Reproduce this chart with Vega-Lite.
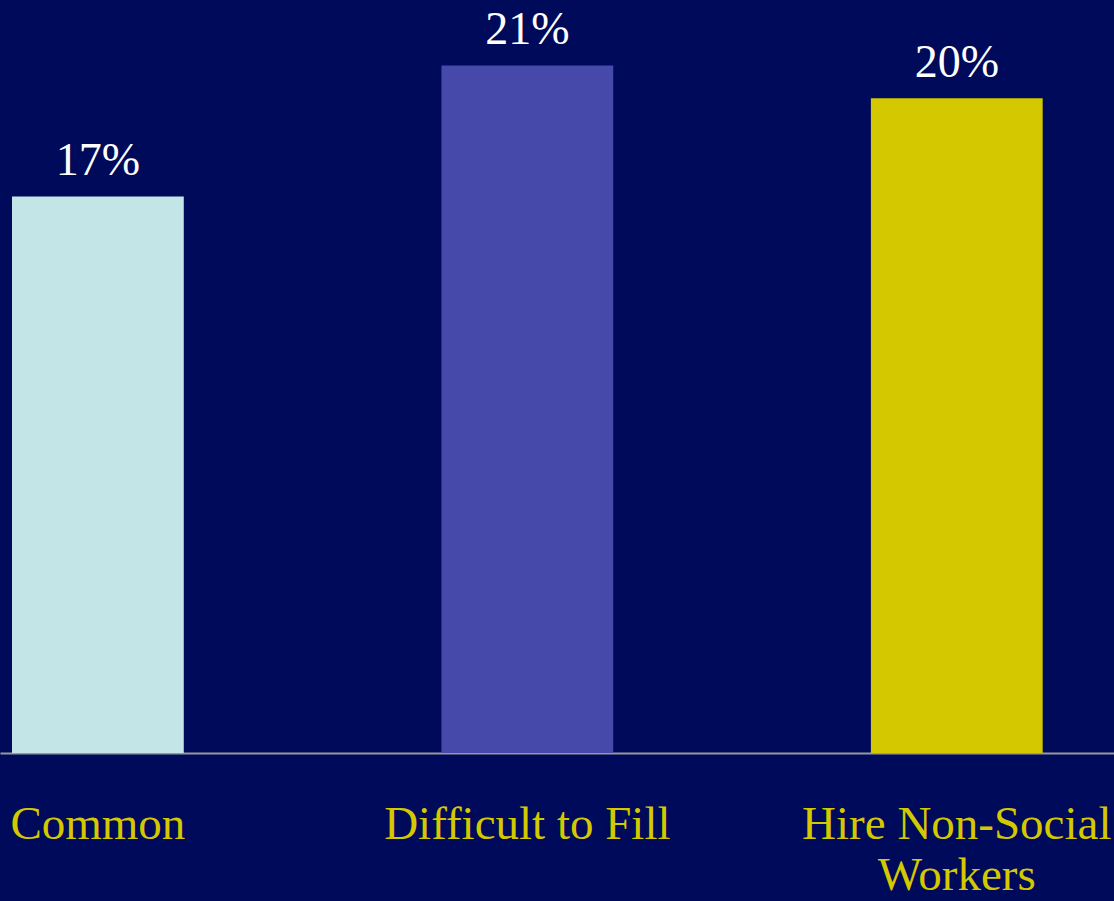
{
  "$schema": "https://vega.github.io/schema/vega-lite/v6.json",
  "width": 1114,
  "height": 753,
  "autosize": "none",
  "padding": {"left": 0, "top": 0, "right": 0, "bottom": 148},
  "background": "#000A5A",
  "config": {"view": {"stroke": null}},
  "data": {
    "values": [
      {"category": "Common", "share": 0.17},
      {"category": "Difficult to Fill", "share": 0.21},
      {"category": "Hire Non-Social Workers", "share": 0.20}
    ]
  },
  "encoding": {
    "x": {
      "field": "category",
      "type": "nominal",
      "sort": null,
      "scale": {"paddingInner": 0.6, "paddingOuter": 0.097, "align": 0.144, "round": false},
      "axis": {
        "title": null,
        "ticks": false,
        "grid": false,
        "labelAngle": 0,
        "domainColor": "#999999",
        "domainWidth": 2,
        "labelFont": "Liberation Serif",
        "labelFontSize": 47,
        "labelColor": "#D4C800",
        "labelBaseline": "alphabetic",
        "labelPadding": 85,
        "labelLineHeight": 51,
        "labelLimit": 0,
        "labelOverlap": false,
        "labelBound": false,
        "labelFlush": false,
        "labelExpr": "datum.value == 'Hire Non-Social Workers' ? ['Hire Non-Social', 'Workers'] : datum.value"
      }
    },
    "y": {
      "field": "share",
      "type": "quantitative",
      "scale": {"domain": [0, 0.23], "nice": false},
      "axis": null
    }
  },
  "layer": [
    {
      "mark": {"type": "bar"},
      "encoding": {
        "color": {
          "field": "category",
          "type": "nominal",
          "sort": null,
          "scale": {"range": ["#C4E5E8", "#4649AA", "#D4C800"]},
          "legend": null
        }
      }
    },
    {
      "mark": {"type": "text", "dy": -21, "baseline": "alphabetic", "font": "Liberation Serif", "fontSize": 46, "color": "#FFFFFF"},
      "encoding": {
        "text": {"field": "share", "type": "quantitative", "format": ".0%"}
      }
    }
  ]
}
